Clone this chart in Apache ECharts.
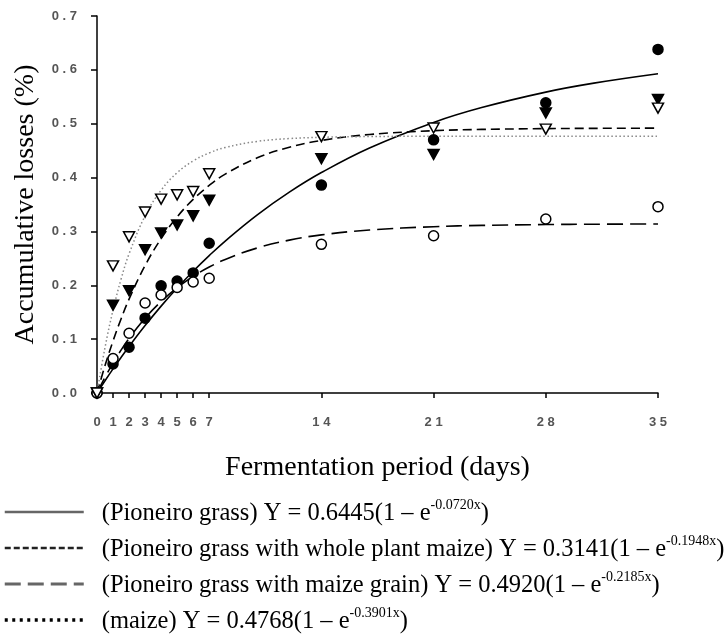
<!DOCTYPE html>
<html>
<head>
<meta charset="utf-8">
<script src="https://cdn.jsdelivr.net/npm/echarts@6/dist/echarts.min.js"></script>
<style>html,body{margin:0;padding:0;background:#fff;}#c{width:727px;height:636px;}</style>
</head>
<body>
<div id="c"></div>
<script>
// Observed points
const days = [0, 1, 2, 3, 4, 5, 6, 7, 14, 21, 28, 35];
const pioneiroGrass   = [0, 0.054, 0.085, 0.139, 0.199, 0.208, 0.223, 0.278, 0.386, 0.470, 0.539, 0.638];
const wholePlantMaize = [0, 0.064, 0.111, 0.167, 0.182, 0.196, 0.206, 0.213, 0.276, 0.292, 0.323, 0.346];
const maizeGrain      = [0, 0.163, 0.190, 0.266, 0.297, 0.312, 0.329, 0.358, 0.435, 0.443, 0.520, 0.545];
const maize           = [0, 0.236, 0.290, 0.336, 0.360, 0.368, 0.374, 0.407, 0.476, 0.492, 0.490, 0.529];

// Fitted curves
const curveDays = [0, 0.5, 1, 1.5, 2, 3, 4, 5, 6, 7, 8, 10, 12, 14, 17, 21, 24, 28, 31, 35];
const curvePioneiro = [0, 0.0228, 0.0448, 0.0660, 0.0864, 0.1252, 0.1613, 0.1949, 0.2261, 0.2551, 0.2822, 0.3308, 0.3729, 0.4093, 0.4550, 0.5024, 0.5300, 0.5587, 0.5753, 0.5927];
const curveWhole    = [0, 0.0292, 0.0556, 0.0796, 0.1014, 0.1390, 0.1700, 0.1955, 0.2165, 0.2338, 0.2480, 0.2693, 0.2838, 0.2936, 0.3027, 0.3088, 0.3112, 0.3128, 0.3134, 0.3138];
const curveGrain    = [0, 0.0509, 0.0966, 0.1375, 0.1742, 0.2366, 0.2867, 0.3270, 0.3594, 0.3854, 0.4064, 0.4367, 0.4563, 0.4689, 0.4800, 0.4870, 0.4894, 0.4909, 0.4914, 0.4918];
const curveMaize    = [0, 0.0845, 0.1540, 0.2112, 0.2583, 0.3289, 0.3766, 0.4090, 0.4309, 0.4457, 0.4558, 0.4672, 0.4724, 0.4748, 0.4762, 0.4767, 0.4768, 0.4768, 0.4768, 0.4768];

// Axis ticks
const xTicks = [0, 1, 2, 3, 4, 5, 6, 7, 14, 21, 28, 35];
const yTicks = [0, 0.1, 0.2, 0.3, 0.4, 0.5, 0.6, 0.7];

// Legend text
const legendLabels = ['(Pioneiro grass)', '(Pioneiro grass with whole plant maize)', '(Pioneiro grass with maize grain)', '(maize)'];
const legendCoef = ['0.6445', '0.3141', '0.4920', '0.4768'];
const legendExp = ['-0.0720x', '-0.1948x', '-0.2185x', '-0.3901x'];

const xTitle = 'Fermentation period (days)';
const yTitle = 'Accumulative losses (%)';

const pair = (xs, ys) => xs.map((x, i) => [x, ys[i]]);
const spaced = s => s.split('').join(' ');

const chart = echarts.init(document.getElementById('c'), null, {renderer: 'canvas'});

const curveStyles = [
  {color: '#000', width: 1.6, type: 'solid'},
  {color: '#000', width: 1.6, type: [16, 7]},
  {color: '#000', width: 1.6, type: [9, 5]},
  {color: '#888', width: 1.5, type: [1.5, 2.5]}
];
const curveData = [curvePioneiro, curveWhole, curveGrain, curveMaize];
const legendLineStyles = [
  {color: '#666', width: 2.5, type: 'solid'},
  {color: '#222', width: 2.5, type: [6, 3]},
  {color: '#666', width: 3, type: [16, 7]},
  {color: '#000', width: 3.5, type: [3, 4.5]}
];

const series = [];
curveData.forEach((d, i) => {
  series.push({
    name: legendLabels[i],
    type: 'line',
    data: pair(curveDays, d),
    symbol: 'none',
    smooth: 0.4,
    lineStyle: curveStyles[i],
    itemStyle: {color: curveStyles[i].color},
    z: 2,
    silent: true
  });
});

const markerDefs = [
  {data: pioneiroGrass, symbol: 'circle', size: 10, rot: 0, fill: '#000'},
  {data: wholePlantMaize, symbol: 'circle', size: 10, rot: 0, fill: '#fff'},
  {data: maizeGrain, symbol: 'triangle', size: [11, 10], rot: 180, fill: '#000'},
  {data: maize, symbol: 'triangle', size: [11, 10], rot: 180, fill: '#fff'}
];
markerDefs.forEach((m, i) => {
  series.push({
    name: 'pts' + i,
    type: 'scatter',
    data: pair(days, m.data),
    symbol: m.symbol,
    symbolSize: m.size,
    symbolRotate: m.rot,
    itemStyle: {color: m.fill, borderColor: '#000', borderWidth: 1.5, opacity: 1},
    z: 3,
    silent: true
  });
});

const tickFont = {fontFamily: 'Liberation Sans', fontSize: 13, fontWeight: 'bold', color: '#555'};

chart.setOption({
  animation: false,
  backgroundColor: '#fff',
  grid: {left: 97, right: 69, top: 16, bottom: 243, containLabel: false},
  xAxis: {
    type: 'value', min: 0, max: 35,
    name: xTitle, nameLocation: 'middle', nameGap: 61,
    nameTextStyle: {fontFamily: 'Liberation Serif', fontSize: 28, color: '#000'},
    axisLine: {show: true, onZero: false, lineStyle: {color: '#000', width: 1.5}},
    axisTick: {show: true, length: 5, inside: false, customValues: xTicks, lineStyle: {color: '#000', width: 1.5}},
    axisLabel: Object.assign({margin: 23, customValues: xTicks, formatter: v => spaced(String(v))}, tickFont),
    splitLine: {show: false}
  },
  yAxis: {
    type: 'value', min: 0, max: 0.7, interval: 0.1,
    name: yTitle, nameLocation: 'middle', nameGap: 57, nameRotate: 90,
    nameTextStyle: {fontFamily: 'Liberation Serif', fontSize: 28, color: '#000'},
    axisLine: {show: true, onZero: false, lineStyle: {color: '#000', width: 1.5}},
    axisTick: {show: true, length: 6, inside: false, customValues: yTicks, lineStyle: {color: '#000', width: 1.5}},
    axisLabel: Object.assign({margin: 20, customValues: yTicks, formatter: v => v.toFixed(1).split('').join(' ')}, tickFont),
    splitLine: {show: false}
  },
  legend: {
    orient: 'vertical', left: -2, top: 493, height: 400, width: 800,
    itemWidth: 79, itemHeight: 14, itemGap: 8,
    selectedMode: false,
    data: legendLabels.map((n, i) => ({name: n, lineStyle: legendLineStyles[i], itemStyle: {opacity: 0}})),
    formatter: name => {
      const i = legendLabels.indexOf(name);
      return '{g|}{n|' + name + ' Y = ' + legendCoef[i] + '(1 \u2013 e}{s|' + legendExp[i] + '}{n|)}';
    },
    textStyle: {
      rich: {
        g: {width: 13},
        n: {fontFamily: 'Liberation Serif', fontSize: 24.5, color: '#000', lineHeight: 28, verticalAlign: 'bottom'},
        s: {fontFamily: 'Liberation Serif', fontSize: 14, color: '#000', lineHeight: 16, verticalAlign: 'top'}
      }
    }
  },
  series: series
});
</script>
</body>
</html>
